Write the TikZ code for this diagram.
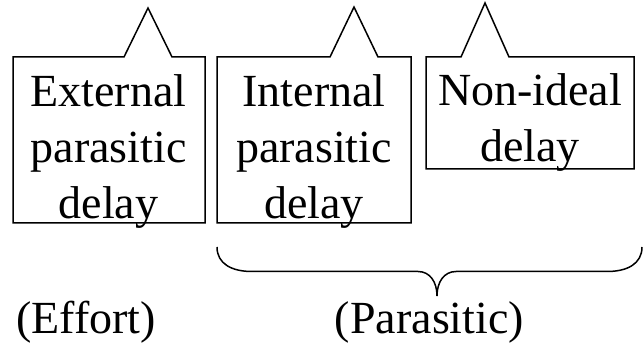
\documentclass[tikz,border=0pt]{standalone}
\usepackage{fontspec}
\setmainfont{Liberation Serif}
\tikzset{lbl/.style={align=center, inner sep=0pt, font=\fontsize{46}{56}\selectfont}}
\newcommand{\calloutbox}[6]{% left, right, bottom, top, tip x, tip y
  \draw (#1,#3) -- (#1,#4) -- ({#5-24},#4) -- (#5,#6) -- ({#5+24},#4) -- (#2,#4) -- (#2,#3) -- cycle;}

\begin{document}
\begin{tikzpicture}[x=1pt, y=1pt, line width=1.5pt]
\useasboundingbox (0,0) rectangle (644,344);
\calloutbox{13}{205}{121}{287}{148}{336}
\calloutbox{217}{411}{121}{287}{354}{337}
\calloutbox{426}{634}{175}{287}{485}{341}
\node[lbl] (ext) at (108.5,192) {External\\parasitic\\delay};
\node[lbl] (int) at (314,192) {Internal\\parasitic\\delay};
\node[lbl] (non) at (530,221) {Non-ideal\\delay};
\node[lbl, anchor=base] (eff) at (86,10.5) {(Effort)};
\node[lbl, anchor=base] (par) at (429.5,10.5) {(Parasitic)};
\coordinate (bl) at (217,97);
\coordinate (br) at (642,97);
\coordinate (tip) at (437,48);
\draw (bl) .. controls (217,80) and (232,72.5) .. (252,72.5) -- (418,72.5)
  .. controls (430,72.5) and (437,62) .. (tip)
  .. controls (437,62) and (444,72.5) .. (456,72.5) -- (607,72.5)
  .. controls (627,72.5) and (642,80) .. (br);
\end{tikzpicture}
\end{document}
